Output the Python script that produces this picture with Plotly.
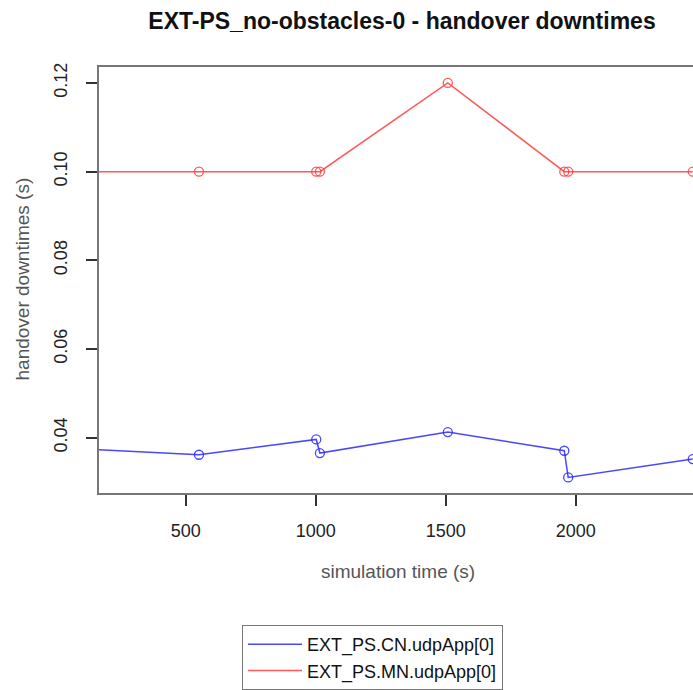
import plotly.graph_objects as go

# ---- data ----
sim_time = [0, 551, 1002, 1016, 1508, 1956, 1971, 2450]
cn_downtime = [0.0378, 0.03615, 0.0396, 0.03653, 0.04126, 0.03705, 0.03104, 0.03518]
mn_downtime = [0.10, 0.10, 0.10, 0.10, 0.12, 0.10, 0.10, 0.10]
series_names = ["EXT_PS.CN.udpApp[0]", "EXT_PS.MN.udpApp[0]"]
x_ticks = [500, 1000, 1500, 2000]
y_ticks = [0.04, 0.06, 0.08, 0.10, 0.12]
y_tick_labels = ["0.04", "0.06", "0.08", "0.10", "0.12"]
title_text = "EXT-PS_no-obstacles-0 - handover downtimes"
x_title = "simulation time (s)"
y_title = "handover downtimes (s)"

x_range = [166.5, 2451]
y_range = [0.02752, 0.1236]

blue = "rgba(40,40,255,0.85)"
red = "rgba(255,60,60,0.85)"
FONT = "Liberation Sans, Arial, sans-serif"

fig = go.Figure()
for name, ys, col in [(series_names[0], cn_downtime, blue), (series_names[1], mn_downtime, red)]:
    fig.add_trace(go.Scatter(x=sim_time, y=ys, mode="lines", name=name,
                             line=dict(color=col, width=1.5)))
    fig.add_trace(go.Scatter(x=sim_time, y=ys, mode="markers", showlegend=False,
                             marker=dict(symbol="circle-open", size=9, color=col,
                                         line=dict(width=1.3, color=col))))

fig.update_layout(
    width=693, height=690,
    margin=dict(l=99, r=0, t=67, b=197),
    paper_bgcolor="white", plot_bgcolor="white",
    font=dict(family=FONT, size=18, color="#222"),
    title=dict(text="<b>" + title_text + "</b>", x=(402 - 99) / 594, xref="paper",
               y=1 - 21 / 690, yref="container", yanchor="middle", xanchor="center",
               font=dict(size=23, color="#111")),
    showlegend=True,
    legend=dict(x=(242 - 99) / 594, y=(493.3 - 626) / 426.6, xanchor="left", yanchor="top",
                bordercolor="#777", borderwidth=1, bgcolor="white",
                font=dict(size=18, color="#111"), itemwidth=54,
                tracegroupgap=0),
)
fig.update_xaxes(range=x_range, tickvals=x_ticks, ticktext=[str(v) for v in x_ticks],
                 showgrid=False, zeroline=False, showline=True, mirror=True,
                 linecolor="#777", linewidth=1.5, ticks="outside", ticklen=11,
                 tickcolor="#333", tickwidth=1.5, ticklabelstandoff=10,
                 tickfont=dict(size=18, color="#222"))
fig.update_yaxes(range=y_range, tickvals=y_ticks, ticktext=y_tick_labels,
                 showgrid=False, zeroline=False, showline=True, mirror=False,
                 linecolor="#777", linewidth=1.5, ticks="outside", ticklen=11,
                 tickcolor="#333", tickwidth=1.5, tickangle=-90, ticklabelstandoff=12,
                 tickfont=dict(size=18, color="#222"))

fig.add_annotation(text=x_title, xref="paper", yref="paper", x=(397.5 - 99) / 594, y=0,
                   yshift=-(572 - 493.3), yanchor="middle", showarrow=False,
                   font=dict(size=19, color="#555"))
fig.add_annotation(text=y_title, xref="paper", yref="paper", x=0, y=(493.3 - 279.5) / 426.6,
                   xshift=-(99 - 23), xanchor="center", yanchor="middle", textangle=-90,
                   showarrow=False, font=dict(size=19, color="#555"))

fig.write_html("out.html")
